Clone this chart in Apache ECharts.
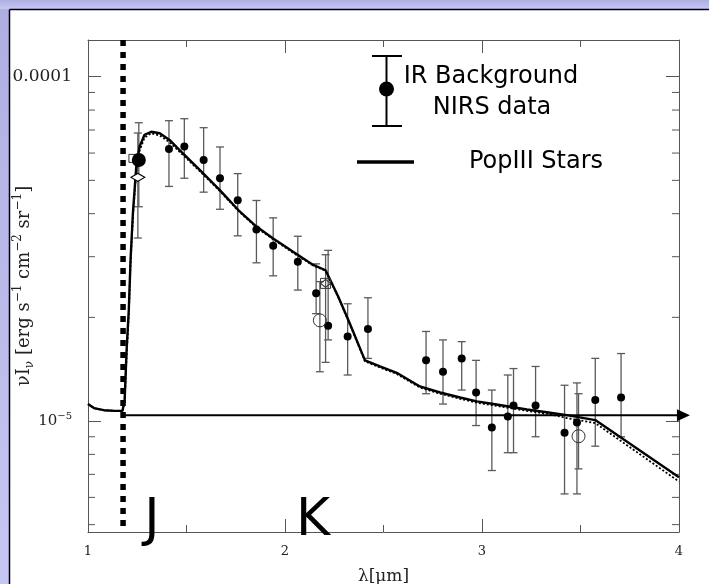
<!DOCTYPE html>
<html>
<head>
<meta charset="utf-8">
<script src="https://cdn.jsdelivr.net/npm/echarts@6/dist/echarts.min.js"></script>
<style>
  html, body { margin: 0; padding: 0; background: #ffffff; }
  #chart { width: 709px; height: 584px; }
</style>
</head>
<body>
<div id="chart"></div>
<script>
// Wavelength grid (micron) of the PopIII stellar model
const modelLambda = [1.000, 1.030, 1.080, 1.135, 1.175, 1.186, 1.196, 1.207, 1.216, 1.228,
  1.245, 1.262, 1.287, 1.321, 1.364, 1.414, 1.465, 1.567, 1.668, 1.770,
  1.855, 1.940, 2.041, 2.143, 2.206, 2.270, 2.329, 2.406, 2.482, 2.567,
  2.685, 2.787, 2.889, 2.974, 3.058, 3.143, 3.228, 3.329, 3.431, 3.575, 4.000];
// nu I_nu of the model, solid curve
const popIIIModel = [1.12e-5, 1.09e-5, 1.075e-5, 1.07e-5, 1.07e-5, 1.15e-5, 1.61e-5, 2.10e-5, 2.94e-5, 4.02e-5,
  5.48e-5, 6.27e-5, 6.78e-5, 6.92e-5, 6.85e-5, 6.55e-5, 6.12e-5, 5.36e-5, 4.69e-5, 4.06e-5,
  3.67e-5, 3.39e-5, 3.10e-5, 2.84e-5, 2.74e-5, 2.30e-5, 1.92e-5, 1.50e-5, 1.44e-5, 1.38e-5,
  1.26e-5, 1.21e-5, 1.17e-5, 1.14e-5, 1.12e-5, 1.10e-5, 1.08e-5, 1.06e-5, 1.04e-5, 1.006e-5, 6.87e-6];
// alternative model run, dotted curve
const popIIIModelAlt = [1.12e-5, 1.09e-5, 1.075e-5, 1.07e-5, 1.07e-5, 1.14e-5, 1.55e-5, 2.02e-5, 2.85e-5, 3.90e-5,
  5.30e-5, 6.10e-5, 6.65e-5, 6.85e-5, 6.75e-5, 6.45e-5, 6.05e-5, 5.32e-5, 4.66e-5, 4.04e-5,
  3.65e-5, 3.37e-5, 3.08e-5, 2.83e-5, 2.73e-5, 2.29e-5, 1.91e-5, 1.49e-5, 1.43e-5, 1.37e-5,
  1.25e-5, 1.20e-5, 1.16e-5, 1.13e-5, 1.11e-5, 1.09e-5, 1.07e-5, 1.05e-5, 1.02e-5, 9.86e-6, 6.67e-6];

// NIRS background measurements with error range
const nirsLambda = [1.411, 1.489, 1.587, 1.670, 1.760, 1.855, 1.940, 2.065, 2.158, 2.219,
  2.318, 2.421, 2.716, 2.802, 2.897, 2.970, 3.050, 3.131, 3.160, 3.272,
  3.419, 3.482, 3.575, 3.706];
const nirsFlux = [6.17e-5, 6.27e-5, 5.73e-5, 5.07e-5, 4.38e-5, 3.60e-5, 3.23e-5, 2.90e-5, 2.35e-5, 1.89e-5,
  1.76e-5, 1.85e-5, 1.50e-5, 1.39e-5, 1.52e-5, 1.21e-5, 9.57e-6, 1.03e-5, 1.11e-5, 1.11e-5,
  9.25e-6, 9.90e-6, 1.15e-5, 1.17e-5];
const nirsLow = [4.80e-5, 5.07e-5, 4.62e-5, 4.12e-5, 3.45e-5, 2.88e-5, 2.64e-5, 2.40e-5, 2.05e-5, 1.72e-5,
  1.36e-5, 1.52e-5, 1.20e-5, 1.12e-5, 1.23e-5, 9.70e-6, 7.18e-6, 8.09e-6, 8.09e-6, 9.00e-6,
  6.14e-6, 6.14e-6, 8.45e-6, 9.00e-6];
const nirsHigh = [7.45e-5, 7.55e-5, 7.11e-5, 6.25e-5, 5.23e-5, 4.37e-5, 3.89e-5, 3.44e-5, 2.86e-5, 3.13e-5,
  2.19e-5, 2.28e-5, 1.82e-5, 1.72e-5, 1.70e-5, 1.50e-5, 1.23e-5, 1.36e-5, 1.42e-5, 1.44e-5,
  1.27e-5, 1.29e-5, 1.52e-5, 1.57e-5];

// J-band measurements
const jBigLambda = [1.258];  const jBigFlux = [5.73e-5];  const jBigLow = [4.19e-5]; const jBigHigh = [7.35e-5];
const jDiamondLambda = [1.253]; const jDiamondFlux = [5.10e-5]; const jDiamondLow = [3.40e-5]; const jDiamondHigh = [6.86e-5];
const jSquareLambda = [1.228]; const jSquareFlux = [5.79e-5];
// K-band and L-band measurements (open symbols)
const kSquareLambda = [2.206]; const kSquareFlux = [2.51e-5]; const kSquareLow = [1.48e-5]; const kSquareHigh = [3.04e-5];
const openCircleLambda = [2.177, 3.490];
const openCircleFlux = [1.96e-5, 9.03e-6];
const openCircleLow = [1.39e-5, 7.26e-6];
const openCircleHigh = [2.54e-5, 1.20e-5];

// J-band edge marker and the flat reference level
const jEdgeLambda = 1.178;
const referenceLevel = 1.04e-5;
const arrowEndLambda = 4.0226;

// axis ranges and ticks
const xMin = 1, xMax = 4;
const yMin = 4.76e-6, yMax = 1.278e-4;
const yMinorTicks = [5e-6, 6e-6, 7e-6, 8e-6, 9e-6, 2e-5, 3e-5, 4e-5, 5e-5, 6e-5, 7e-5, 8e-5, 9e-5];
const yTickText = { '-4': '0.0001', '-5': '{b|10}{s|−5}' };

const zip = (xs, ys) => xs.map((x, i) => [x, ys[i]]);
const zip3 = (xs, lo, hi) => xs.map((x, i) => [x, lo[i], hi[i]]);

const serif = '"DejaVu Serif", "Liberation Serif", serif';
const hand = '"Comic Sans MS", "DejaVu Sans", "Noto Sans", sans-serif';
const axisGray = '#555555';

function errorBarItem(params, api) {
  const x = api.value(0);
  const top = api.coord([x, api.value(2)]);
  const bot = api.coord([x, api.value(1)]);
  const hw = 4;
  const st = { stroke: '#5a5a5a', lineWidth: 1.3 };
  return {
    type: 'group',
    children: [
      { type: 'line', shape: { x1: top[0], y1: top[1], x2: bot[0], y2: bot[1] }, style: st },
      { type: 'line', shape: { x1: top[0] - hw, y1: top[1], x2: top[0] + hw, y2: top[1] }, style: st },
      { type: 'line', shape: { x1: bot[0] - hw, y1: bot[1], x2: bot[0] + hw, y2: bot[1] }, style: st }
    ]
  };
}

function minorTickItem(params, api) {
  const v = api.value(1);
  const l = api.coord([xMin, v]);
  const r = api.coord([xMax, v]);
  const st = { stroke: axisGray, lineWidth: 1 };
  return {
    type: 'group',
    children: [
      { type: 'line', shape: { x1: l[0], y1: l[1], x2: l[0] + 7, y2: l[1] }, style: st },
      { type: 'line', shape: { x1: r[0], y1: r[1], x2: r[0] - 7, y2: r[1] }, style: st }
    ]
  };
}

const lavender = new echarts.graphic.LinearGradient(0, 0, 0, 1, [
  { offset: 0, color: '#aeaee1' },
  { offset: 1, color: '#c7c7f3' }
]);

const chart = echarts.init(document.getElementById('chart'), null, { renderer: 'canvas' });

const xAxisBase = {
  type: 'value', min: xMin, max: xMax, interval: 1,
  axisLine: { show: true, lineStyle: { color: axisGray, width: 1 } },
  axisTick: { show: true, inside: true, length: 13, lineStyle: { color: axisGray } },
  minorTick: { show: true, splitNumber: 2, length: 7, lineStyle: { color: axisGray } },
  splitLine: { show: false },
  minorSplitLine: { show: false }
};
const yAxisBase = {
  type: 'log', logBase: 10, min: yMin, max: yMax,
  axisLine: { show: true, lineStyle: { color: axisGray, width: 1 } },
  axisTick: { show: true, inside: true, length: 13, lineStyle: { color: axisGray } },
  splitLine: { show: false }
};

chart.setOption({
  animation: false,
  backgroundColor: '#ffffff',
  grid: { left: 88, right: 30, top: 40, bottom: 52, containLabel: false, outerBoundsMode: 'none' },
  xAxis: [
    Object.assign({}, xAxisBase, {
      position: 'bottom',
      name: 'λ[μm]', nameLocation: 'middle', nameGap: 36, nameMoveOverlap: false,
      nameTextStyle: { fontFamily: serif, fontSize: 17, color: '#222' },
      axisLabel: { show: true, margin: 13, fontFamily: serif, fontSize: 13, color: '#222' }
    }),
    Object.assign({}, xAxisBase, { position: 'top', axisLabel: { show: false } })
  ],
  yAxis: [
    Object.assign({}, yAxisBase, {
      position: 'left',
      name: '{n|νI}{sb|ν}{n| [erg s}{sp|−1}{n| cm}{sp|−2}{n| sr}{sp|−1}{n|]}',
      nameLocation: 'middle', nameRotate: 90, nameGap: 52, nameMoveOverlap: false,
      nameTextStyle: {
        color: '#222',
        rich: {
          n: { fontFamily: serif, fontSize: 18, lineHeight: 24, color: '#222' },
          sp: { fontFamily: serif, fontSize: 12, verticalAlign: 'top', lineHeight: 24, color: '#222' },
          sb: { fontFamily: serif, fontSize: 12, verticalAlign: 'bottom', lineHeight: 24, color: '#222' }
        }
      },
      axisLabel: {
        show: true, margin: 16, showMinLabel: false, showMaxLabel: false,
        fontFamily: serif, fontSize: 17, color: '#222',
        formatter: function (v) {
          const e = Math.round(Math.log10(v));
          if (Math.abs(Math.log10(v) - e) > 0.01) return '';
          return yTickText[String(e)] || '';
        },
        rich: {
          b: { fontFamily: serif, fontSize: 15, lineHeight: 20, color: '#222' },
          s: { fontFamily: serif, fontSize: 10, verticalAlign: 'top', lineHeight: 20, color: '#222' }
        }
      }
    }),
    Object.assign({}, yAxisBase, { position: 'right', axisLabel: { show: false } })
  ],
  graphic: [
    // lavender frame around the white panel
    { type: 'rect', z: 100, shape: { x: 0, y: 0, width: 9, height: 584 }, style: { fill: lavender } },
    { type: 'rect', z: 100, shape: { x: 0, y: 0, width: 709, height: 9 }, style: { fill: lavender } },
    { type: 'line', z: 101, shape: { x1: 9.5, y1: 9.5, x2: 9.5, y2: 584 }, style: { stroke: '#000', lineWidth: 1.5 } },
    { type: 'line', z: 101, shape: { x1: 9.5, y1: 9.5, x2: 709, y2: 9.5 }, style: { stroke: '#000', lineWidth: 1.5 } },
    // key: error bar with dot
    { type: 'line', z: 50, shape: { x1: 386.5, y1: 56, x2: 386.5, y2: 126 }, style: { stroke: '#000', lineWidth: 2 } },
    { type: 'line', z: 50, shape: { x1: 372, y1: 56, x2: 402, y2: 56 }, style: { stroke: '#000', lineWidth: 2 } },
    { type: 'line', z: 50, shape: { x1: 372, y1: 126, x2: 402, y2: 126 }, style: { stroke: '#000', lineWidth: 2 } },
    { type: 'circle', z: 50, shape: { cx: 386.5, cy: 89, r: 7.5 }, style: { fill: '#000' } },
    { type: 'text', z: 50, style: { x: 491, y: 77, text: 'IR Background', font: '24px ' + hand, fill: '#000', align: 'center', verticalAlign: 'middle' } },
    { type: 'text', z: 50, style: { x: 492, y: 108, text: 'NIRS data', font: '24px ' + hand, fill: '#000', align: 'center', verticalAlign: 'middle' } },
    // key: model line
    { type: 'line', z: 50, shape: { x1: 357, y1: 162, x2: 414, y2: 162 }, style: { stroke: '#000', lineWidth: 3.5 } },
    { type: 'text', z: 50, style: { x: 536, y: 162, text: 'PopIII Stars', font: '24px ' + hand, fill: '#000', align: 'center', verticalAlign: 'middle' } },
    // band names
    { type: 'text', z: 50, style: { x: 152, y: 521, text: 'J', font: '52px ' + hand, fill: '#000', align: 'center', verticalAlign: 'middle' } },
    { type: 'text', z: 50, style: { x: 313, y: 521, text: 'K', font: '52px ' + hand, fill: '#000', align: 'center', verticalAlign: 'middle' } }
  ],
  series: [
    {
      name: 'yMinorTicks', type: 'custom', renderItem: minorTickItem, silent: true, z: 1,
      encode: { x: 0, y: 1 }, clip: false,
      data: yMinorTicks.map(v => [xMin, v])
    },
    {
      name: 'errNIRS', type: 'custom', renderItem: errorBarItem, silent: true, z: 2,
      encode: { x: 0, y: [1, 2] },
      data: zip3(nirsLambda, nirsLow, nirsHigh)
        .concat(zip3(jBigLambda, jBigLow, jBigHigh))
        .concat(zip3(jDiamondLambda, jDiamondLow, jDiamondHigh))
        .concat(zip3(kSquareLambda, kSquareLow, kSquareHigh))
        .concat(zip3(openCircleLambda, openCircleLow, openCircleHigh))
    },
    {
      name: 'J edge', type: 'line', z: 3, silent: true, symbol: 'none',
      lineStyle: { color: '#000', width: 5.5, type: [6, 6], cap: 'butt' },
      data: [[jEdgeLambda, yMax], [jEdgeLambda, yMin]]
    },
    {
      name: 'reference level', type: 'line', z: 3, silent: true, clip: false,
      lineStyle: { color: '#000', width: 2 },
      data: [
        { value: [jEdgeLambda, referenceLevel], symbol: 'none' },
        { value: [arrowEndLambda, referenceLevel], symbol: 'triangle', symbolRotate: -90, symbolSize: [12, 13], itemStyle: { color: '#000', opacity: 1 } }
      ]
    },
    {
      name: 'PopIII alt', type: 'line', z: 4, silent: true, symbol: 'none',
      lineStyle: { color: '#000', width: 1.8, type: [2, 2] },
      data: zip(modelLambda, popIIIModelAlt)
    },
    {
      name: 'PopIII Stars', type: 'line', z: 5, silent: true, symbol: 'none',
      lineStyle: { color: '#000', width: 2.4 },
      data: zip(modelLambda, popIIIModel)
    },
    {
      name: 'NIRS', type: 'scatter', z: 6, silent: true, symbol: 'circle', symbolSize: 8,
      itemStyle: { color: '#000', opacity: 1 },
      data: zip(nirsLambda, nirsFlux)
    },
    {
      name: 'J big', type: 'scatter', z: 6, silent: true, symbol: 'circle', symbolSize: 14,
      itemStyle: { color: '#000', opacity: 1 },
      data: zip(jBigLambda, jBigFlux)
    },
    {
      name: 'J diamond', type: 'scatter', z: 7, silent: true, symbol: 'diamond', symbolSize: [14, 8],
      itemStyle: { color: '#fff', borderColor: '#000', borderWidth: 1.1, opacity: 1 },
      data: zip(jDiamondLambda, jDiamondFlux)
    },
    {
      name: 'J square', type: 'scatter', z: 5, silent: true, symbol: 'rect', symbolSize: 8,
      itemStyle: { color: 'rgba(0,0,0,0)', borderColor: '#333', borderWidth: 1, opacity: 1 },
      data: zip(jSquareLambda, jSquareFlux)
    },
    {
      name: 'K square', type: 'scatter', z: 7, silent: true, symbol: 'rect', symbolSize: 10,
      itemStyle: { color: 'rgba(0,0,0,0)', borderColor: '#333', borderWidth: 1, opacity: 1 },
      data: zip(kSquareLambda, kSquareFlux)
    },
    {
      name: 'K diamond', type: 'scatter', z: 7, silent: true, symbol: 'diamond', symbolSize: [10, 8],
      itemStyle: { color: 'rgba(0,0,0,0)', borderColor: '#333', borderWidth: 1, opacity: 1 },
      data: zip(kSquareLambda, kSquareFlux)
    },
    {
      name: 'open circles', type: 'scatter', z: 7, silent: true, symbol: 'circle', symbolSize: 13,
      itemStyle: { color: 'rgba(0,0,0,0)', borderColor: '#333', borderWidth: 1, opacity: 1 },
      data: zip(openCircleLambda, openCircleFlux)
    }
  ]
});
</script>
</body>
</html>
